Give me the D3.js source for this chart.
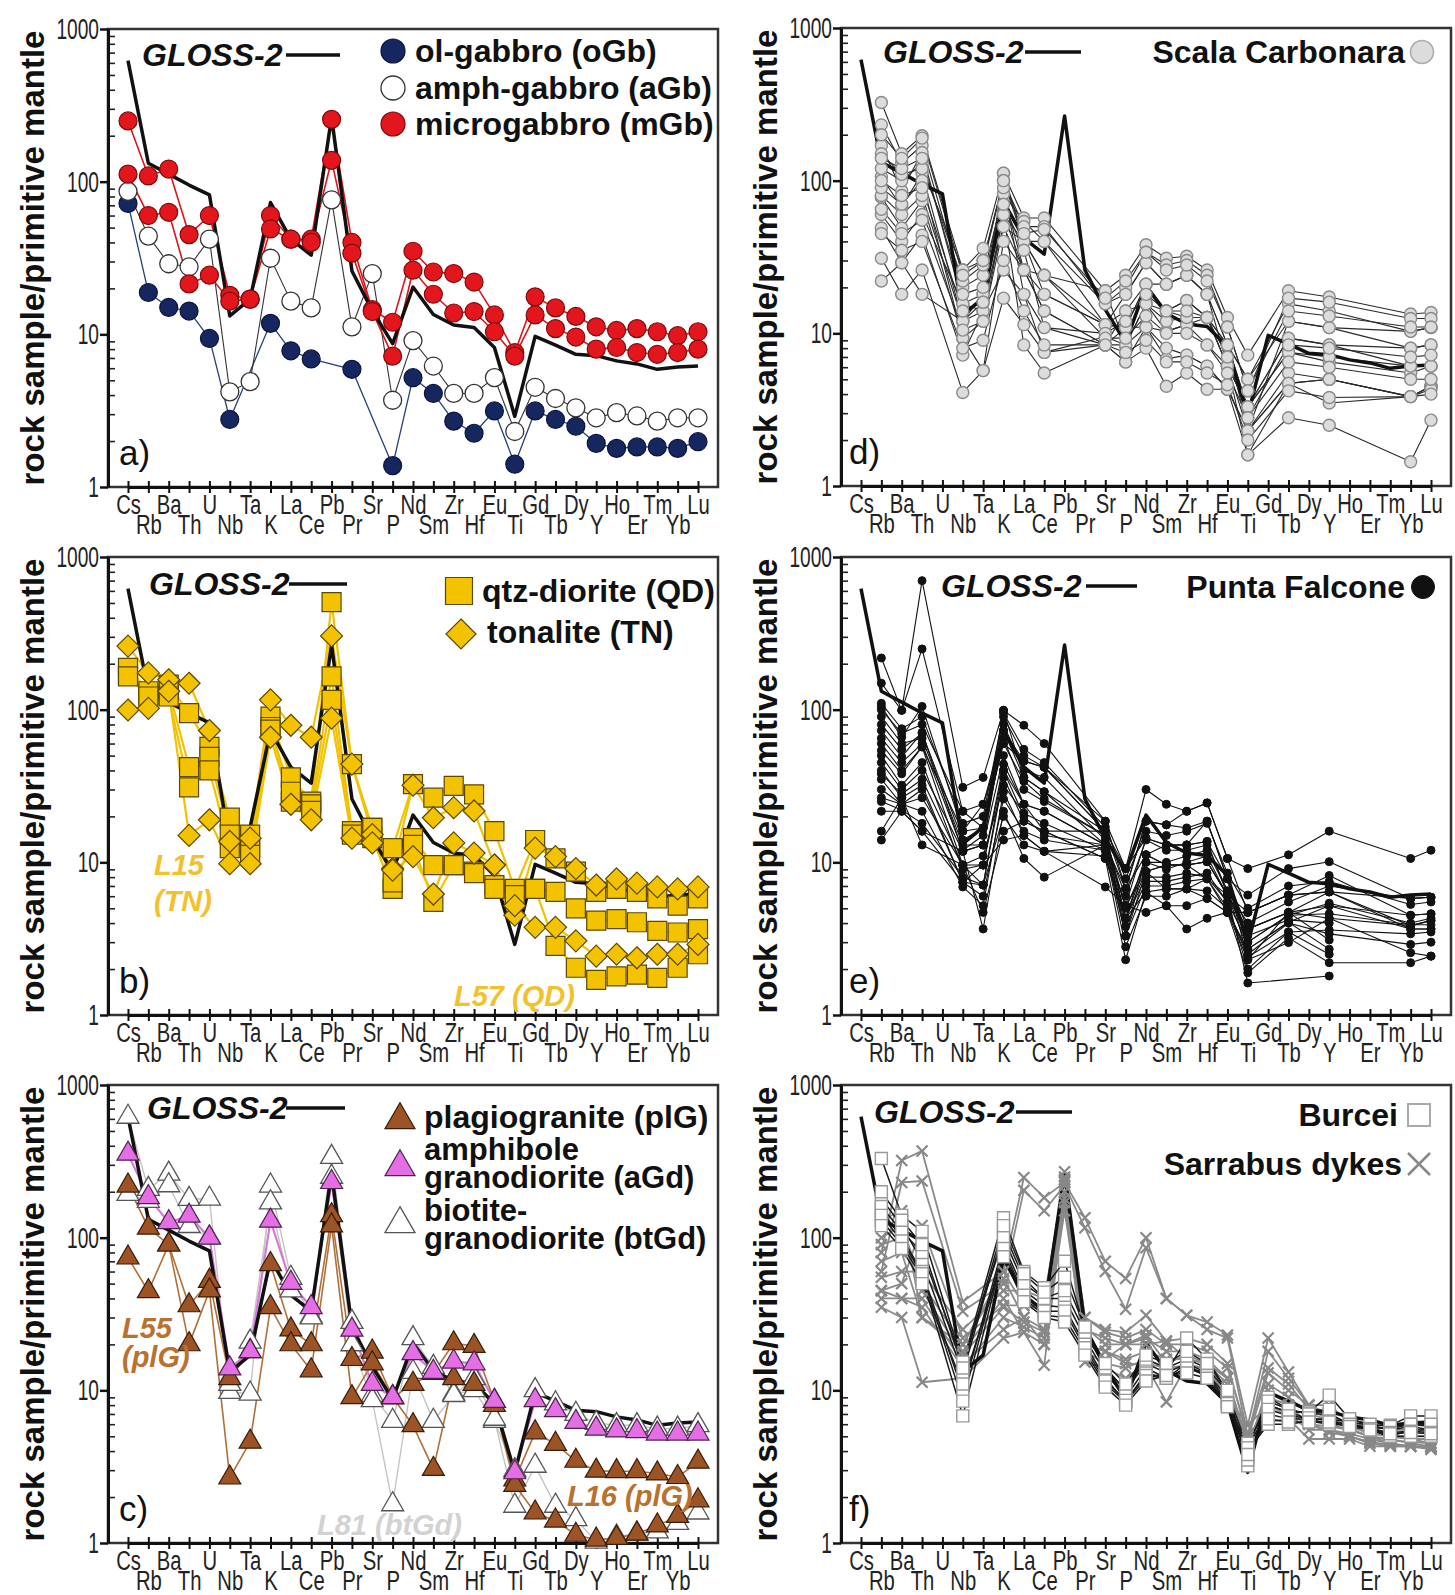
<!DOCTYPE html>
<html>
<head>
<meta charset="utf-8">
<script src="https://cdn.jsdelivr.net/npm/d3@7"></script>
<style>
  body { margin: 0; background: #fff; }
  svg text { font-family: "Liberation Sans", Arial, Helvetica, sans-serif; }
</style>
</head>
<body>
<script>

//ELEMENTS ON THE X AXIS (primitive mantle normalised spider diagram)
var elements = ["Cs","Rb","Ba","Th","U","Nb","Ta","K","La","Ce","Pb","Pr","Sr","P","Nd","Sm","Zr","Hf","Eu","Ti","Gd","Tb","Dy","Y","Ho","Er","Tm","Yb","Lu"];
//elements analysed for Scala Carbonara / Punta Falcone
var traceElems = ["Rb","Ba","Th","Nb","Ta","K","La","Ce","Sr","P","Nd","Sm","Zr","Hf","Eu","Ti","Tb","Y","Yb","Lu"];
//elements analysed for Burcei / Sarrabus dykes
var dykeElems = ["Rb","Ba","Th","Nb","K","La","Ce","Pb","Pr","Sr","P","Nd","Sm","Zr","Hf","Eu","Ti","Gd","Tb","Dy","Y","Ho","Er","Tm","Yb","Lu"];

var yTicks = [1, 10, 100, 1000];

//GLOSS-2 reference line
var gloss2 = [620,132,112,95,82,13.2,17,73,42,33,265,26,14.3,8.7,20.4,13.5,11.5,11.1,8.2,2.9,9.7,8.5,7.4,7.25,6.7,6.4,5.9,6.1,6.2];

//panel a
var olGabbro = [
  [72,18.8,15,14.2,9.4,2.77,null,11.8,7.8,6.9,null,5.9,null,1.38,5.2,4.1,2.7,2.25,3.15,1.41,3.15,2.77,2.5,1.93,1.79,1.83,1.83,1.79,1.98]
];
var amphGabbro = [
  [86.5,44,29,27.7,42,4.2,4.9,31.5,16.5,14.9,76,11.2,25,3.7,9.1,6.2,4.1,4.1,5.2,2.31,4.5,3.8,3.3,2.84,3.07,2.92,2.7,2.84,2.84]
];
var microGabbro = [
  [250,109,121,45,60,18,17,60,42,42,256,40,14.5,12,35,25.6,25,22,13.4,7.6,17.6,14.9,13.1,11.2,10.6,10.9,10.4,9.8,10.4],
  [112,60,63,21.4,24.4,16.5,17,49,42,40,138,34,14.1,7.2,26.3,18.3,13.8,14.1,10.4,7.2,13.4,10.9,9.6,8,8.2,7.6,7.4,7.6,8]
];

//panel b
var qtzDiorite = [
  [170,125,146,95,57,19.6,15.2,90,36,25,506,44,16.8,12.4,32.5,26.5,31.7,27.9,16,6.7,14,10.6,8.7,6.4,6.7,6.4,5.8,5.2,5.8],
  [188,132,135,42,49,15.2,12.4,77,25,24,165,16,14.4,6.7,14.4,9.6,9.6,8.7,7.1,5.8,6.7,6.4,5,4.15,4.25,4.05,3.56,3.47,3.65],
  [165,122,122,31,40,12.4,11.2,74,29,21.7,116,15.2,16.8,7.4,13,5.5,9.6,8.5,6.7,6.1,6.7,2.84,2.04,1.7,1.79,1.84,1.75,2.04,2.5]
];
var tonalite = [
  [261,174,157,149,73,13.7,14.4,116,79,66,304,44,15.2,9.1,32,19.6,22.8,21.7,9.6,4.5,12.4,10.9,9.1,7.1,7.8,7.3,6.9,6.7,6.9],
  [99.5,102,132,15,19,9.8,9.8,66,24,19,88,14.4,13.4,8.9,10.9,6.2,13.4,11.5,9.6,5.2,3.75,3.75,3.06,2.43,2.5,2.37,2.5,2.5,2.9]
];

//panel c
var plagiogranite = [
  [219,116,90,36,52,12,18,67,25,20,140,16,17.9,9,11,13,20.3,19.5,8.5,2.6,5.3,4.45,3.45,2.97,2.95,2.95,2.85,2.7,3.4],
  [74,44.5,90,20,45,2.68,4.6,35,20,13.5,120,9,15,9,5.9,3.05,12,11,8,2.4,1.58,1.4,1.13,1.05,1.08,1.15,1.3,1.5,1.9]
];
var amphGranodiorite = [
  [354,184,126,139,100,13.9,18,129,50.5,35,231,24.9,11,9,17.5,13.2,15.4,15,8.5,2.9,8.6,7.4,6.2,5.6,5.45,5.4,5.2,5.2,5.2]
];
var btGranodiorite = [
  [618,208,262,179,180,9.75,9.5,219,54.5,30.4,337,28,9.3,6.3,21.9,14.2,9.5,10,6.3,3,10,8.2,7,6.1,5.9,5.9,5.6,5.6,5.9],
  [193,174,220,119,100,11,20.8,170,45,30,250,20,8.6,1.79,13.2,6.3,9.3,12,6.5,1.75,3.2,1.75,1.43,1.02,1.1,1.15,1.19,1.35,1.58]
];

//panel d (traceElems)
var scalaCarbonara = [
  [325,150,197,26,36,112,57,57,19,24,38,31,32,26,12.7,7.2,19,17.3,13.4,13.7],
  [232,130,170,20,24,82,54,40,15.6,18,29,21,24,18,8.4,5,15.6,14,10.3,10.9],
  [170,86,153,15.6,18,60,40,40,11.4,14,21,14,16.4,12.7,8.4,5,12,10.9,8,8.4],
  [106,67,112,12,14,112,40,24,11.4,10.9,21,14,16.4,12.7,6.1,3.3,9.3,8.4,6.1,6.1],
  [78,49,74,9.3,5.7,40,26,14,8.4,8.4,15.6,10.3,11.4,8.4,6.1,3.3,7.5,6.5,5.5,6.1],
  [49,29,44,7.2,14,26,18,10.9,8.4,10.9,11,6.8,7.2,6.1,4.3,2.3,5.5,5,3.85,4.5],
  [31,18,26,4.1,5.7,17,11.4,7.5,8.4,6.5,8,4.5,5.5,4.3,4.3,1.6,2.8,2.5,1.44,2.7],
  [22,29,18,12,18,82,26,14,8.4,14,15.6,14,12.7,12.7,6.1,2.3,4.7,3.5,3.85,4.5],
  [120,100,130,22,28,100,50,50,15.6,20,34,28,30,24,11,4.2,17,16,12.5,12.5],
  [60,40,60,15.6,14,60,26,18,11.4,18,29,21,24,18,8.4,2.3,12,10.9,10.3,10.9],
  [150,110,120,26,30,100,40,24,19,8.4,11,10.3,11.4,12.7,8.4,3.3,9.3,8.4,8,8.4],
  [80,60,80,12,16,50,40,18,11.4,10.9,21,21,24,18,6.1,1.6,4.7,5,3.85,4.5],
  [90,70,100,9.3,12,60,8.4,5.5,8.4,6.5,11,8,7.2,6.1,4.3,2.3,4.7,5,3.85,4.3],
  [140,120,140,18,20,90,18,7.5,9.5,8.4,15.6,12,12.7,12.7,6.1,3.3,7.5,7,6.1,6.1],
  [200,140,190,24,30,100,45,48,17,22,34,26,28,22,11,4.2,14,13,11,11],
  [100,80,90,14,16,70,35,10.9,10,12,18,14,14,12.7,7,2.8,8.4,8,7,7.2],
  [65,45,55,10.5,12,50,26,24,9.3,9.3,13,10,10,8.4,5.5,2.8,6.5,6,5,5],
  [45,35,40,8,9,30,14,8.4,8.4,7.5,9,6.5,6.5,5.5,4.6,2,4.2,3.8,3.85,4]
];

//panel e (traceElems)
var puntaFalcone = [
  [218,99,700,31,36,99,79,60,18.6,9.1,30,24,21.6,24.5,10.6,9.1,11.2,16,10.6,12],
  [149,99,250,21.6,24,73,46,42,16,6.7,18.6,17.6,16.8,18.6,7.8,6.1,9.1,10.1,5.8,5.9],
  [105,66,105,16,16.8,99,36,29,13,5.2,14.4,13,13,13.7,6.1,4.7,6.1,8.2,4.5,4.6],
  [73,49,71,11.8,13,73,36,29,16,4.3,11.2,9.6,9.6,10.1,6.1,3.66,4.7,6.4,3.85,4.15],
  [54,38,57,9.6,9.6,44,24,21.6,13,3.3,8.7,6.7,6.7,7.8,4.7,2.7,4.05,5.2,3.66,3.66],
  [40,26.5,32,7.4,7.1,36,18.6,16,10.6,2.3,6.4,5.2,5.2,5.8,4.7,2.3,2.98,4.3,2.56,2.43],
  [26.5,24,21.6,6.9,5.2,29,15,11.8,6.9,5.2,4.7,5.2,3.66,4.3,4.7,1.89,3.2,2.2,2.2,2.43],
  [21.6,21.6,16,11.8,3.66,21.6,10.6,8,13,6.7,11.2,9.6,9.6,10.1,6.1,1.62,null,1.8,null,null],
  [16,26.5,13,9.6,4.7,16,18.6,16,16,9.1,14.4,13,13,13.7,7.8,3.66,4.7,3.1,null,null],
  [14,21.6,16,7.4,9.6,14,15,11.8,13,4.3,8.7,9.6,9.6,7.8,6.1,2.7,4.05,2.7,null,null],
  [60,40,57,16,24,60,46,42,18.6,6.7,18.6,17.6,21.6,24.5,10.6,4.7,6.1,6.4,5.8,5.9],
  [100,70,80,21.6,16.8,90,50,42,16,3.3,11.2,13,13,18.6,7.8,2.3,4.7,4.3,3.85,4.15],
  [45,30,40,11.8,13,50,24,21.6,13,5.2,8.7,9.6,9.6,10.1,6.1,3.66,4.7,5.2,4.5,4.6],
  [35,24,26.5,9.6,7.1,40,24,16,10.6,4.3,6.4,6.7,6.7,5.8,4.7,4.7,6.1,6.4,3.66,3.66],
  [90,60,65,13,13,80,40,36,14,6,14,12,12,13,6.5,4,5.5,7,5.8,5.9],
  [50,32,45,9,9.6,40,20,15,13,3.8,7.5,7.5,8,8.5,5.5,3,4.5,4.6,3.9,3.9],
  [30,24,30,7.4,6,26,16,14,12,2.8,6,6,6.7,6.5,5,2.4,3.5,3.6,3.4,3.5],
  [65,45,60,12,15,65,30,25,15,5,10,9,10,11,6,3.3,4.2,4,null,null],
  [25,22,18,8,7.1,20,13,11.8,11,4.3,8,8,8.5,8,5.5,2,3.5,2.5,null,null],
  [110,75,90,18,20,95,55,45,17,7.8,16,15,16,18,8.5,5,7,7.5,5.3,5.5],
  [38,28,35,9.6,11,32,21,18,12,3.3,7,7,7.5,7.8,5,2.5,4,3.4,2.9,3],
  [80,55,70,14,16.8,60,34,26,15,4.3,10,10,11,12,6.5,3,4.5,5.4,4,4.3]
];

//panel f (dykeElems)
var burcei = [
  [330,140,110,15,135,60,47,70,25,14,10,15,13,22,16,9.8,3.2,8,7.2,7.2,9.3,6.5,5.9,5.9,6.8,6.8],
  [180,120,70,13,110,54,40,40,22,13,9,14,12,15,13,9,3.7,7,6.5,6.5,6,6,5.5,5,5.5,5.5],
  [150,100,60,9.8,90,45,36,35,20,12,8.4,13,12,14,13,8.4,4,6,6,6.3,6,5.9,5.5,5,5,5],
  [130,90,55,6.8,80,40,31,30,18,11,8.4,12,13,15,12,8,4.5,8,7.2,6.5,6.5,6.2,5.9,5.5,5.8,5.5],
  [160,110,80,15.3,100,50,40,45,24,14,10,16,14,16,14,9.8,4.2,9,7.5,7,7,6,5.7,5.6,6,5.8],
  [200,130,90,14,120,58,44,55,26,15,11,17,15,18,15,10,3.5,8.5,7.5,7,7.5,6.5,6,5.8,6,6],
  [140,95,58,8.5,85,42,33,33,19,11.5,8.6,12.5,12,14,12.5,8.2,4.2,7.5,6.8,6.6,6.3,6,5.6,5.3,5.4,5.3],
  [120,85,50,11,75,38,30,28,17,10.5,8,11.5,12.5,13,12,7.8,3.8,6.5,6.2,6.2,6.2,5.8,5.5,5.2,5.3,5.2]
];
var sarrabus = [
  [80,320,370,38,60,248,183,230,135,70,54,100,40,31,28,23,5.9,22,13.2,8,8,6.2,5.9,5.5,5.5,5.5],
  [60,230,235,33,50,204,150,220,116,60,34,86,40,31,25,22,5,18,12,8,7,6,5.5,5,5,5],
  [45,50,120,22,36,36,36,270,30,25,24,31,21,22,20,15,4.8,13,10,8,7,6,5.9,5,4.8,4.8],
  [40,40,40,15,25,30,25,200,25,22,20,23,15,17,15,12,4.5,8,7,6.5,6,5.5,5,4.5,4.3,4.3],
  [35,30,11.3,12,22,24,20,150,20,18,15,14.6,8.4,14.6,14,10,4.8,6.2,6.5,4.8,4.8,4.8,4.3,4.3,4.3,4.1],
  [100,120,50,20,54,30,20,240,22,16,20,20,21,16,15,12,4.2,10,8,6,5.8,5.5,5,4.8,4.5,4.3],
  [70,80,30,18,40,24,14.6,180,15.3,14,12,15,14,14.6,14,9,5.9,8,7,5.5,5.5,5,4.5,4.3,4.3,4.2],
  [55,60,60,25,45,45,40,240,30,24,22,25,20,20,18,14,5.2,14,11,7.5,6.5,5.8,5.2,5,4.8,4.5],
  [90,100,45,17,35,28,24,200,20,18,16,18,16,16,15,11,4.6,9,8,6,5.5,5.2,4.8,4.5,4.3,4.2],
  [45,40,35,14,30,26,22,170,18,15,14,16,14,14,13,10,5,7.5,7,6,5.3,5,4.6,4.4,4.3,4.3],
  [130,150,30,20,60,36,34,250,26,20,20,22,18,18,16,12,4,11,9,7,6.4,5.6,5,4.7,4.6,4.5]
];


///CHART SET UP

var W = 1455, H = 1595;
var pw = 610, ph = 458;

var svg = d3.select("body").append("svg")
    .attr("width", W)
    .attr("height", H);

svg.append("rect").attr("width", W).attr("height", H).attr("fill", "#fff");

var x = d3.scalePoint().domain(elements).range([20, pw - 20]);
var y = d3.scaleLog().domain([1, 1000]).range([ph, 0]);

var line = d3.line()
    .x(function(d) { return x(d.e); })
    .y(function(d) { return y(d.v); });

//turn one sample into points, skipping elements that were not measured
function points(vals, elems) {
    var pts = [];
    vals.forEach(function(v, i) {
        if (v !== null) pts.push({ e: elems[i], v: v });
    });
    return pts;
}

function symbolPath(type, s) {
    var h = s / 2;
    if (type === "square") return "M" + (-h) + "," + (-h) + "h" + s + "v" + s + "h" + (-s) + "Z";
    if (type === "diamond") return "M0," + (-h) + "L" + h + ",0L0," + h + "L" + (-h) + ",0Z";
    if (type === "triangle") {
        var th = s * 0.866;
        return "M0," + (-th * 2 / 3) + "L" + h + "," + (th / 3) + "L" + (-h) + "," + (th / 3) + "Z";
    }
    if (type === "x") return "M" + (-h) + "," + (-h) + "L" + h + "," + h + "M" + (-h) + "," + h + "L" + h + "," + (-h);
    return d3.symbol(d3.symbolCircle, Math.PI * h * h)();
}

function mark(g, st, cx, cy, s) {
    g.append("path")
        .attr("d", symbolPath(st.mk, s))
        .attr("transform", "translate(" + cx + "," + cy + ")")
        .attr("fill", st.mk === "x" ? "none" : st.fill)
        .attr("stroke", st.stroke)
        .attr("stroke-width", st.sw);
}

function txt(x0, y0, s, size, opts) {
    opts = opts || {};
    return svg.append("text")
        .attr("transform", "translate(" + x0 + "," + y0 + ")" + (opts.sx ? " scale(" + opts.sx + ",1)" : ""))
        .attr("text-anchor", opts.anchor || "start")
        .style("font-size", size + "px")
        .style("font-weight", opts.weight || "bold")
        .style("font-style", opts.italic ? "italic" : "normal")
        .attr("fill", opts.fill || "#111")
        .text(s);
}


///DRAW ONE PANEL

function drawPanel(p) {

    var g = svg.append("g")
        .attr("transform", "translate(" + p.left + "," + p.top + ")");

    //frame
    g.append("rect")
        .attr("width", pw)
        .attr("height", ph)
        .attr("fill", "none")
        .attr("stroke", "#333")
        .attr("stroke-width", 2.5);

    //minor log ticks, pointing inside
    var minor = [];
    [1, 10, 100].forEach(function(b) {
        for (var k = 2; k < 10; k++) minor.push(b * k);
    });
    var ym = g.append("g")
        .call(d3.axisLeft(y).tickValues(minor).tickSize(-7).tickFormat(""));
    ym.select(".domain").remove();
    ym.selectAll("line").attr("stroke", "#222").attr("stroke-width", 1.6);

    //major ticks
    var ya = g.append("g")
        .call(d3.axisLeft(y).tickValues(yTicks).tickSize(8).tickSizeOuter(0).tickFormat(""));
    ya.selectAll("line").attr("stroke", "#111").attr("stroke-width", 2.5);
    ya.select(".domain").attr("stroke", "#111").attr("stroke-width", 3);

    yTicks.forEach(function(v) {
        g.append("text")
            .attr("transform", "translate(-9," + (y(v) + 10) + ") scale(0.66,1)")
            .attr("text-anchor", "end")
            .style("font-size", "29px")
            .attr("fill", "#222")
            .text(v);
    });

    //x axis, labels on two rows
    var xa = g.append("g")
        .attr("transform", "translate(0," + ph + ")")
        .call(d3.axisBottom(x).tickSize(6).tickSizeOuter(0));
    xa.select(".domain").attr("stroke", "#111").attr("stroke-width", 3);
    xa.selectAll(".tick line").attr("y1", -6).attr("stroke", "#111").attr("stroke-width", 2);
    xa.selectAll(".tick text")
        .attr("y", function(d, i) { return i % 2 ? 47 : 27; })
        .attr("dy", 0)
        .attr("transform", "scale(0.75,1)")
        .attr("fill", "#222")
        .style("font-size", "27px")
        .style("font-family", "'Liberation Sans', Arial, sans-serif");

    //y label
    g.append("text")
        .attr("transform", "translate(-64," + (ph / 2) + ") rotate(-90)")
        .attr("text-anchor", "middle")
        .style("font-size", "33px")
        .style("font-weight", "bold")
        .attr("fill", "#111")
        .text("rock sample/primitive mantle");

    //panel tag
    g.append("text")
        .attr("x", p.tagX)
        .attr("y", ph - 22)
        .style("font-size", "35px")
        .attr("fill", "#111")
        .text(p.tag);

    //sample lines
    p.series.forEach(function(st) {
        st.samples.forEach(function(s) {
            g.append("path")
                .datum(points(s, st.elems || elements))
                .attr("d", line)
                .attr("fill", "none")
                .attr("stroke", st.line)
                .attr("stroke-width", st.lw)
                .attr("stroke-linejoin", "round");
        });
    });

    //GLOSS-2
    g.append("path")
        .datum(points(gloss2, elements))
        .attr("d", line)
        .attr("fill", "none")
        .attr("stroke", "#111")
        .attr("stroke-width", 3.5)
        .attr("stroke-linejoin", "round");

    //markers
    p.series.forEach(function(st) {
        st.samples.forEach(function(s) {
            points(s, st.elems || elements).forEach(function(d) {
                mark(g, st, x(d.e), y(d.v), st.ms);
            });
        });
    });

    //GLOSS-2 legend
    txt(p.gloss[0], p.gloss[1] + 11, "GLOSS-2", 32, { italic: true });
    svg.append("line")
        .attr("x1", p.gloss[2]).attr("x2", p.gloss[3])
        .attr("y1", p.gloss[1]).attr("y2", p.gloss[1])
        .attr("stroke", "#111")
        .attr("stroke-width", 3.5);

    return g;
}


///STYLES

var stOl = { samples: olGabbro, line: "#24407a", lw: 1.3, mk: "circle", ms: 18, fill: "#16275f", stroke: "#0a1440", sw: 1.2 };
var stAmph = { samples: amphGabbro, line: "#333", lw: 1.1, mk: "circle", ms: 18, fill: "#fff", stroke: "#333", sw: 1.3 };
var stMicro = { samples: microGabbro, line: "#d8161c", lw: 1.6, mk: "circle", ms: 18, fill: "#e3161d", stroke: "#7d0b0b", sw: 1.2 };

var stQD = { samples: qtzDiorite, line: "#f2c200", lw: 2.2, mk: "square", ms: 19, fill: "#f4c300", stroke: "#5c4800", sw: 1.2 };
var stTN = { samples: tonalite, line: "#f2c200", lw: 2.2, mk: "diamond", ms: 22, fill: "#f4c300", stroke: "#5c4800", sw: 1.2 };

var stPlG = { samples: plagiogranite, line: "#b0703a", lw: 1.6, mk: "triangle", ms: 22, fill: "#9c5426", stroke: "#3a1d08", sw: 1.2 };
var stAGd = { samples: amphGranodiorite, line: "#d77ad7", lw: 2.2, mk: "triangle", ms: 22, fill: "#e46fe4", stroke: "#4e224e", sw: 1.2 };
var stBtGd = { samples: btGranodiorite, line: "#c4c4c4", lw: 1.4, mk: "triangle", ms: 22, fill: "#fff", stroke: "#555", sw: 1.3 };

var stScala = { samples: scalaCarbonara, elems: traceElems, line: "#2a2a2a", lw: 1.1, mk: "circle", ms: 12, fill: "#dcdcdc", stroke: "#8a8a8a", sw: 1.4 };
var stPunta = { samples: puntaFalcone, elems: traceElems, line: "#111", lw: 1.1, mk: "circle", ms: 8, fill: "#111", stroke: "#111", sw: 1 };

var stSarr = { samples: sarrabus, elems: dykeElems, line: "#8a8a8a", lw: 1.8, mk: "x", ms: 11, fill: "none", stroke: "#888", sw: 2.2 };
var stBurc = { samples: burcei, elems: dykeElems, line: "#1a1a1a", lw: 1.5, mk: "square", ms: 12, fill: "#fff", stroke: "#999", sw: 1.4 };


///PANELS

drawPanel({ left: 108, top: 29, tag: "a)", tagX: 11, gloss: [142, 55, 286, 340], series: [stOl, stAmph, stMicro] });
drawPanel({ left: 108, top: 557, tag: "b)", tagX: 11, gloss: [149, 584, 289, 347], series: [stQD, stTN] });
drawPanel({ left: 108, top: 1085, tag: "c)", tagX: 11, gloss: [147, 1108, 286, 345], series: [stBtGd, stPlG, stAGd] });
drawPanel({ left: 841, top: 28, tag: "d)", tagX: 8, gloss: [883, 52, 1025, 1081], series: [stScala] });
drawPanel({ left: 841, top: 557, tag: "e)", tagX: 8, gloss: [941, 586, 1086, 1137], series: [stPunta] });
drawPanel({ left: 841, top: 1085, tag: "f)", tagX: 8, gloss: [874, 1112, 1016, 1072], series: [stSarr, stBurc] });


///LEGENDS

var lg = svg.append("g");

//a
mark(lg, stOl, 393, 51, 24);
txt(415, 62, "ol-gabbro (oGb)", 32);
mark(lg, stAmph, 393, 88, 24);
txt(415, 99, "amph-gabbro (aGb)", 32);
mark(lg, stMicro, 393, 124, 24);
txt(415, 135, "microgabbro (mGb)", 32);

//b
mark(lg, stQD, 459, 591, 27);
txt(482, 602, "qtz-diorite (QD)", 32);
mark(lg, stTN, 461, 634, 30);
txt(487, 643, "tonalite (TN)", 32);
txt(154, 875, "L15", 29, { italic: true, fill: "#f2c12e" });
txt(154, 911, "(TN)", 29, { italic: true, fill: "#f2c12e" });
txt(454, 1006, "L57 (QD)", 29, { italic: true, fill: "#f2c12e" });

//c
mark(lg, stPlG, 400, 1120, 30);
txt(424, 1128, "plagiogranite (plG)", 32);
mark(lg, stAGd, 400, 1167, 30);
txt(424, 1160, "amphibole", 31);
txt(424, 1188, "granodiorite (aGd)", 31);
mark(lg, stBtGd, 400, 1224, 30);
txt(424, 1221, "biotite-", 31);
txt(424, 1249, "granodiorite (btGd)", 31);
txt(122, 1338, "L55", 29, { italic: true, fill: "#b8712f" });
txt(122, 1367, "(plG)", 29, { italic: true, fill: "#b8712f" });
txt(567, 1506, "L16 (plG)", 29, { italic: true, fill: "#b8712f" });
txt(317, 1535, "L81 (btGd)", 29, { italic: true, fill: "#d2d2d2" });

//d
txt(1405, 63, "Scala Carbonara", 32, { anchor: "end" });
mark(lg, { mk: "circle", fill: "#dcdcdc", stroke: "#aaa", sw: 1.5 }, 1422, 52, 23);

//e
txt(1405, 598, "Punta Falcone", 32, { anchor: "end" });
mark(lg, { mk: "circle", fill: "#111", stroke: "#111", sw: 1 }, 1423, 587, 23);

//f
txt(1398, 1126, "Burcei", 32, { anchor: "end" });
mark(lg, { mk: "square", fill: "#fff", stroke: "#aaa", sw: 2 }, 1419, 1115, 22);
txt(1402, 1175, "Sarrabus dykes", 32, { anchor: "end" });
mark(lg, { mk: "x", stroke: "#888", sw: 2.5 }, 1419, 1164, 22);

</script>
</body>
</html>
